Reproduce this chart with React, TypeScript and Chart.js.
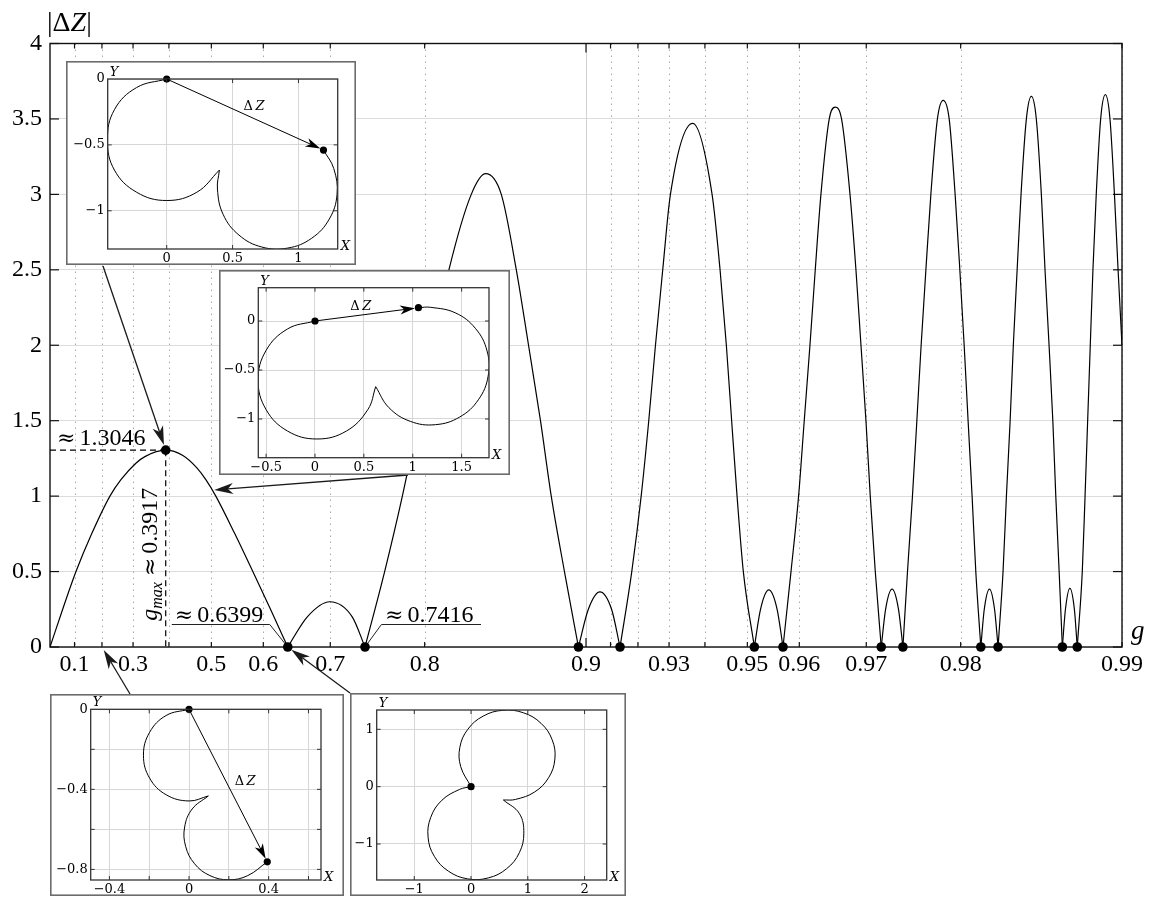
import React, { useEffect, useRef } from "react";
import { Chart, registerables } from "chart.js";

Chart.register(...registerables);

const FONT = "'Liberation Serif', 'DejaVu Serif', serif";
const SMALL_FONT = "'DejaVu Serif', 'Liberation Serif', serif";
const SYM_FONT = "'DejaVu Serif', serif";

// ---------------- main curve |ΔZ|(g) ----------------
const G_VALUES = [
  0, 0.053, 0.1056, 0.1639, 0.227, 0.2627, 0.3086, 0.3348, 0.3917, 0.4349, 0.4679, 0.488, 0.5095, 0.548, 0.5816, 0.6122, 0.6399,
  0.6689, 0.6993, 0.727, 0.7416,
  0.7625, 0.7799, 0.7942, 0.807, 0.8198, 0.8363, 0.8461, 0.8561, 0.8651, 0.872, 0.8784, 0.8839, 0.8903, 0.8967,
  0.901, 0.9058, 0.9104, 0.9136,
  0.91785, 0.9211, 0.92363, 0.9258, 0.92808, 0.93042, 0.93676, 0.94182, 0.94378, 0.94528, 0.94651, 0.94774, 0.94913, 0.95148,
  0.95275, 0.9544, 0.956, 0.9571,
  0.95855, 0.95988, 0.96084, 0.96179, 0.96265, 0.96355, 0.96483, 0.96572, 0.96664, 0.96783, 0.96864, 0.96931, 0.96996, 0.97051, 0.97114, 0.97187,
  0.97239, 0.97315, 0.97388, 0.97437,
  0.97487, 0.9754, 0.97586, 0.9763, 0.97678, 0.97727, 0.9779, 0.97844, 0.97899, 0.97952, 0.97993, 0.9803, 0.98063, 0.98096, 0.98126, 0.98166,
  0.98193, 0.98233, 0.98271, 0.98297,
  0.98333, 0.98357, 0.98383, 0.98405, 0.98431, 0.98457, 0.98492, 0.98524, 0.98555, 0.98586, 0.98608, 0.98632, 0.98654, 0.98671, 0.9869, 0.98708,
  0.98725, 0.98749, 0.98773, 0.98788,
  0.98814, 0.98828, 0.98841, 0.98854, 0.98867, 0.98883, 0.98904, 0.98926, 0.98947, 0.98967, 0.98983, 0.99,
];
const DZ_VALUES = [
  0, 0.25, 0.5, 0.75, 1.0, 1.109, 1.218, 1.262, 1.3046, 1.269, 1.187, 1.109, 1.0, 0.75, 0.5, 0.25, 0,
  0.2, 0.3, 0.2, 0,
  0.5, 1.0, 1.5, 2.0, 2.5, 3.0, 3.137, 3.0, 2.5, 2.0, 1.5, 1.0, 0.5, 0,
  0.25, 0.365, 0.25, 0,
  0.5, 1.0, 1.5, 2.0, 2.5, 3.0, 3.471, 3.0, 2.5, 2.0, 1.5, 1.0, 0.5, 0,
  0.25, 0.378, 0.25, 0,
  0.5, 1.0, 1.5, 2.0, 2.5, 3.0, 3.5, 3.578, 3.5, 3.0, 2.5, 2.0, 1.5, 1.0, 0.5, 0,
  0.25, 0.384, 0.25, 0,
  0.5, 1.0, 1.5, 2.0, 2.5, 3.0, 3.5, 3.623, 3.5, 3.0, 2.5, 2.0, 1.5, 1.0, 0.5, 0,
  0.25, 0.384, 0.25, 0,
  0.5, 1.0, 1.5, 2.0, 2.5, 3.0, 3.5, 3.649, 3.5, 3.0, 2.5, 2.0, 1.5, 1.0, 0.5, 0,
  0.25, 0.389, 0.25, 0,
  0.5, 1.0, 1.5, 2.0, 2.5, 3.0, 3.5, 3.661, 3.5, 3.0, 2.5, 2.0,
];
const ZERO_G = [0.6399, 0.7416, 0.8967, 0.9136, 0.95148, 0.9571, 0.97187, 0.97437, 0.98166, 0.98297, 0.98708, 0.98788];
const PEAK_G = 0.3917;
const PEAK_DZ = 1.3046;

const X_TICK_G = [0.1, 0.2, 0.3, 0.4, 0.5, 0.6, 0.7, 0.8, 0.9, 0.91, 0.92, 0.93, 0.94, 0.95, 0.96, 0.97, 0.98, 0.99];
const X_TICK_LABELS = ["0.1", "", "0.3", "", "0.5", "0.6", "0.7", "0.8", "0.9", "", "", "0.93", "", "0.95", "0.96", "0.97", "0.98", "0.99"];
const X_MAJOR_G = [0.9];
const Y_TICKS = [0, 0.5, 1, 1.5, 2, 2.5, 3, 3.5, 4];
const Y_TICK_LABELS = ["0", "0.5", "1", "1.5", "2", "2.5", "3", "3.5", "4"];

// arrows from insets to the main curve: target (g, |ΔZ|)
const ARROW_TARGET_G = [0.3917, 0.504, 0.2, 0.6399];
const ARROW_TARGET_DZ = [1.3046, 1.04, 0, 0];

// ---------------- inset trajectories ----------------
const TL_A_X = [0, -0.229, -0.397, -0.45, -0.397, -0.229, 0, 0.229, 0.4];
const TL_A_Y = [0, -0.065, -0.233, -0.462, -0.691, -0.859, -0.922, -0.859, -0.691];
const TL_B_X = [0.4, 0.385, 0.428, 0.548, 0.722, 0.919, 1.101, 1.234, 1.293, 1.268, 1.19];
const TL_B_Y = [-0.691, -0.835, -1.027, -1.184, -1.275, -1.283, -1.208, -1.063, -0.875, -0.679, -0.539];
const TL_DOT_X = [0, 1.19];
const TL_DOT_Y = [0, -0.539];

const MID_A_X = [0, -0.281, -0.501, -0.582, -0.501, -0.281, 0.02, 0.321, 0.541, 0.621];
const MID_A_Y = [0, -0.081, -0.301, -0.602, -0.903, -1.123, -1.204, -1.123, -0.903, -0.67];
const MID_B_X = [0.621, 0.756, 0.975, 1.232, 1.48, 1.671, 1.771, 1.76, 1.64, 1.434, 1.18, 1.058];
const MID_B_Y = [-0.67, -0.884, -1.024, -1.058, -0.98, -0.804, -0.564, -0.305, -0.074, 0.084, 0.14, 0.136];
const MID_DOT_X = [0, 1.058];
const MID_DOT_Y = [0, 0.136];

const BL_A_X = [0, -0.115, -0.198, -0.229, -0.198, -0.115, 0, 0.097];
const BL_A_Y = [0, -0.031, -0.115, -0.229, -0.344, -0.427, -0.458, -0.433];
const BL_B_X = [0.097, 0.016, -0.022, -0.017, 0.028, 0.105, 0.2, 0.295, 0.393];
const BL_B_Y = [-0.433, -0.498, -0.588, -0.685, -0.772, -0.831, -0.852, -0.831, -0.762];
const BL_DOT_X = [0, 0.393];
const BL_DOT_Y = [0, -0.762];

const BR_A_X = [0, -0.181, -0.197, -0.057, 0.213, 0.561, 0.924, 1.233, 1.429, 1.477, 1.367, 1.12, 0.782, 0.57];
const BR_A_Y = [0, 0.347, 0.686, 1.0, 1.23, 1.332, 1.288, 1.105, 0.818, 0.482, 0.157, -0.093, -0.223, -0.233];
const BR_B_X = [0.57, 0.851, 0.93, 0.851, 0.628, 0.304, -0.062, -0.4, -0.647, -0.757, -0.709, -0.513, -0.204, 0];
const BR_B_Y = [-0.233, -0.468, -0.81, -1.152, -1.43, -1.592, -1.608, -1.473, -1.215, -0.881, -0.533, -0.237, -0.049, 0];
const BR_DOT_X = [0];
const BR_DOT_Y = [0];

// inset axis ranges and ticks
const TL_RANGE = [-0.448, 1.298, -1.29, 0];
const MID_RANGE = [-0.58, 1.78, -1.395, 0.34];
const BL_RANGE = [-0.494, 0.663, -0.853, 0];
const BR_RANGE = [-1.662, 2.39, -1.628, 1.337];

const TL_XT = [0, 0.5, 1];
const TL_XL = ["0", "0.5", "1"];
const TL_YT = [0, -0.5, -1];
const TL_YL = ["0", "\u22120.5", "\u22121"];
const MID_XT = [-0.5, 0, 0.5, 1, 1.5];
const MID_XL = ["\u22120.5", "0", "0.5", "1", "1.5"];
const MID_YT = [0, -0.5, -1];
const MID_YL = ["0", "\u22120.5", "\u22121"];
const BL_XT = [-0.4, -0.2, 0, 0.2, 0.4, 0.6];
const BL_XL = ["\u22120.4", "", "0", "", "0.4", ""];
const BL_YT = [0, -0.2, -0.4, -0.6, -0.8];
const BL_YL = ["0", "", "\u22120.4", "", "\u22120.8"];
const BR_XT = [-1, 0, 1, 2];
const BR_XL = ["\u22121", "0", "1", "2"];
const BR_YT = [1, 0, -1];
const BR_YL = ["1", "0", "\u22121"];

// ---------------- layout (pixels) ----------------
const W = 1154;
const H = 897;
const PLOT = { left: 50, right: 1122, top: 43.5, bottom: 647 };
const ARROW_FROM = [[103, 266], [408, 475], [130, 694], [350, 693]];
const ARROW_SHORTEN = [5.5, 1, 3.5, 4.5];

type InsetSpec = {
  box: number[];
  inner: number[];
  range: number[];
  xt: number[]; xl: string[]; yt: number[]; yl: string[];
  curves: number[][][];
  dotX: number[]; dotY: number[];
  labelOffset: number[] | null;
};

const INSETS: InsetSpec[] = [
  {
    box: [66, 61, 356, 265], inner: [107.7, 79, 337.7, 249], range: TL_RANGE,
    xt: TL_XT, xl: TL_XL, yt: TL_YT, yl: TL_YL,
    curves: [[TL_A_X, TL_A_Y], [TL_B_X, TL_B_Y]], dotX: TL_DOT_X, dotY: TL_DOT_Y, labelOffset: [9, -8],
  },
  {
    box: [219, 270, 510, 475], inner: [258.3, 287.7, 489, 457.7], range: MID_RANGE,
    xt: MID_XT, xl: MID_XL, yt: MID_YT, yl: MID_YL,
    curves: [[MID_A_X, MID_A_Y], [MID_B_X, MID_B_Y]], dotX: MID_DOT_X, dotY: MID_DOT_Y, labelOffset: [-6, -8],
  },
  {
    box: [50, 694, 344, 896], inner: [90.7, 709.3, 321, 880], range: BL_RANGE,
    xt: BL_XT, xl: BL_XL, yt: BL_YT, yl: BL_YL,
    curves: [[BL_A_X, BL_A_Y], [BL_B_X, BL_B_Y]], dotX: BL_DOT_X, dotY: BL_DOT_Y, labelOffset: [17, -4],
  },
  {
    box: [350, 693, 626, 896], inner: [376.7, 710, 606.7, 880], range: BR_RANGE,
    xt: BR_XT, xl: BR_XL, yt: BR_YT, yl: BR_YL,
    curves: [[BR_A_X, BR_A_Y], [BR_B_X, BR_B_Y]], dotX: BR_DOT_X, dotY: BR_DOT_Y, labelOffset: null,
  },
];

// ---------------- helpers ----------------
const toU = (g: number) => -Math.log(1 - g);

// text, italic, size, dy, optional family
type Part = [string, boolean, number, number, string?];

function measureParts(ctx: CanvasRenderingContext2D, parts: Part[], family: string) {
  let w = 0;
  for (const [t, it, s, , fam] of parts) {
    ctx.font = `${it ? "italic " : ""}${s}px ${fam || family}`;
    w += ctx.measureText(t).width;
  }
  return w;
}

function drawParts(ctx: CanvasRenderingContext2D, parts: Part[], x: number, y: number, family: string) {
  let cx = x;
  for (const [t, it, s, dy, fam] of parts) {
    ctx.font = `${it ? "italic " : ""}${s}px ${fam || family}`;
    ctx.fillText(t, cx, y + dy);
    cx += ctx.measureText(t).width;
  }
}

function drawArrow(
  ctx: CanvasRenderingContext2D, x0: number, y0: number, x1: number, y1: number,
  shorten: number, len: number, half: number
) {
  const dx = x1 - x0, dy = y1 - y0;
  const d = Math.hypot(dx, dy);
  const ux = dx / d, uy = dy / d, nx = -uy, ny = ux;
  const tx = x1 - ux * shorten, ty = y1 - uy * shorten;
  const bx = tx - ux * len, by = ty - uy * len;
  const mx = tx - ux * len * 0.72, my = ty - uy * len * 0.72;
  ctx.beginPath();
  ctx.moveTo(x0, y0);
  ctx.lineTo(mx, my);
  ctx.stroke();
  ctx.beginPath();
  ctx.moveTo(tx, ty);
  ctx.lineTo(bx + nx * half, by + ny * half);
  ctx.lineTo(mx, my);
  ctx.lineTo(bx - nx * half, by - ny * half);
  ctx.closePath();
  ctx.fill();
}

function line(ctx: CanvasRenderingContext2D, a: number, b: number, c: number, d: number) {
  ctx.beginPath();
  ctx.moveTo(a, b);
  ctx.lineTo(c, d);
  ctx.stroke();
}

function approxParts(value: string): Part[] {
  return [["\u2248", false, 22, 0, SYM_FONT], ["\u2006" + value, false, 24, 0]];
}

// ---------------- main chart plugin ----------------
const mainPlugin = {
  id: "mainDecor",
  beforeDatasetsDraw(chart: any) {
    const { ctx, chartArea: a, scales } = chart;
    const xs = scales.x, ys = scales.y;
    ctx.save();
    X_TICK_G.forEach((g) => {
      const px = Math.round(xs.getPixelForValue(toU(g))) + 0.5;
      const major = X_MAJOR_G.includes(g);
      ctx.setLineDash(major ? [] : [1.5, 4.5]);
      ctx.strokeStyle = major ? "#d2d2d2" : "#a8a8a8";
      ctx.lineWidth = 1;
      line(ctx, px, a.top, px, a.bottom);
    });
    ctx.setLineDash([]);
    ctx.strokeStyle = "#111";
    ctx.lineWidth = 1.4;
    ctx.strokeRect(a.left, a.top, a.right - a.left, a.bottom - a.top);
    ctx.lineWidth = 1.2;
    X_TICK_G.forEach((g) => {
      const px = xs.getPixelForValue(toU(g));
      const len = X_MAJOR_G.includes(g) ? 9 : 5;
      line(ctx, px, a.top, px, a.top + len);
      line(ctx, px, a.bottom, px, a.bottom - len);
    });
    Y_TICKS.forEach((v) => {
      const py = ys.getPixelForValue(v);
      line(ctx, a.left, py, a.left + 9, py);
      line(ctx, a.right, py, a.right - 9, py);
    });
    const px = xs.getPixelForValue(toU(PEAK_G));
    const py = ys.getPixelForValue(PEAK_DZ);
    ctx.setLineDash([6, 4]);
    ctx.lineWidth = 1.2;
    ctx.strokeStyle = "#000";
    line(ctx, a.left, py, px, py);
    line(ctx, px, py, px, a.bottom);
    ctx.setLineDash([]);
    const zy = ys.getPixelForValue(0);
    const z1 = xs.getPixelForValue(toU(ZERO_G[0]));
    const z2 = xs.getPixelForValue(toU(ZERO_G[1]));
    ctx.lineWidth = 1;
    ctx.strokeStyle = "#222";
    ctx.beginPath();
    ctx.moveTo(z1 - 116, zy - 22.5);
    ctx.lineTo(z1 - 18, zy - 22.5);
    ctx.lineTo(z1, zy);
    ctx.stroke();
    ctx.beginPath();
    ctx.moveTo(z2 + 116, zy - 22.5);
    ctx.lineTo(z2 + 16.4, zy - 22.5);
    ctx.lineTo(z2, zy);
    ctx.stroke();
    ctx.restore();
  },
  afterDatasetsDraw(chart: any) {
    const { ctx, scales } = chart;
    const xs = scales.x, ys = scales.y;
    ctx.save();
    ctx.fillStyle = "#000";
    ctx.strokeStyle = "#000";
    ctx.textBaseline = "alphabetic";
    const px = xs.getPixelForValue(toU(PEAK_G));
    const py = ys.getPixelForValue(PEAK_DZ);
    const zy = ys.getPixelForValue(0);
    const z1 = xs.getPixelForValue(toU(ZERO_G[0]));
    const z2 = xs.getPixelForValue(toU(ZERO_G[1]));
    drawParts(ctx, approxParts(PEAK_DZ.toFixed(4)), 57, py - 5, FONT);
    drawParts(ctx, approxParts(ZERO_G[0].toFixed(4)), z1 - 113, zy - 25, FONT);
    drawParts(ctx, approxParts(ZERO_G[1].toFixed(4)), z2 + 20, zy - 25, FONT);
    const rot: Part[] = [
      ["g", true, 24, 0], ["max", true, 16, 5], ["\u2005", false, 24, 0],
      ["\u2248", false, 22, 0, SYM_FONT], ["\u2006" + PEAK_G.toFixed(4), false, 24, 0],
    ];
    ctx.save();
    ctx.translate(px - 9, py + 104);
    ctx.rotate(-Math.PI / 2);
    const rw = measureParts(ctx, rot, FONT);
    drawParts(ctx, rot, -rw / 2, 0, FONT);
    ctx.restore();
    ctx.lineWidth = 1.3;
    ctx.strokeStyle = "#1a1a1a";
    ctx.fillStyle = "#1a1a1a";
    ARROW_FROM.forEach(([sx, sy], i) => {
      const tx = xs.getPixelForValue(toU(ARROW_TARGET_G[i]));
      const ty = ys.getPixelForValue(ARROW_TARGET_DZ[i]);
      drawArrow(ctx, sx, sy, tx, ty, ARROW_SHORTEN[i], 19, 5.5);
    });
    ctx.fillStyle = "#000";
    drawParts(ctx, [["|\u0394", false, 28, 0], ["Z", true, 28, 0], ["|", false, 28, 0]], 47, 31, FONT);
    drawParts(ctx, [["g", true, 27, 0]], 1131, 639, FONT);
    ctx.restore();
  },
};

function MainChart() {
  const ref = useRef<HTMLCanvasElement>(null);
  useEffect(() => {
    const segments: { x: number; y: number }[][] = [];
    let cur: { x: number; y: number }[] = [];
    G_VALUES.forEach((g, i) => {
      const p = { x: toU(g), y: DZ_VALUES[i] };
      cur.push(p);
      if (DZ_VALUES[i] === 0 && cur.length > 1) {
        segments.push(cur);
        cur = [p];
      }
    });
    if (cur.length > 1) segments.push(cur);

    const datasets: any[] = segments.map((seg) => ({
      data: seg,
      showLine: true,
      borderColor: "#000",
      borderWidth: 1.2,
      pointRadius: 0,
      cubicInterpolationMode: "monotone",
      fill: false,
      order: 2,
    }));
    datasets.push({
      data: [...ZERO_G.map((g) => ({ x: toU(g), y: 0 })), { x: toU(PEAK_G), y: PEAK_DZ }],
      showLine: false,
      pointRadius: 4.8,
      pointBackgroundColor: "#000",
      pointBorderColor: "#000",
      pointBorderWidth: 0,
      clip: false,
      order: -1,
    });

    const chart = new Chart(ref.current as HTMLCanvasElement, {
      type: "scatter",
      data: { datasets },
      options: {
        responsive: false,
        maintainAspectRatio: false,
        animation: false,
        events: [],
        elements: { line: { capBezierPoints: false } },
        layout: {
          autoPadding: false,
          padding: { top: PLOT.top, right: W - PLOT.right, left: 0, bottom: 0 },
        },
        plugins: { legend: { display: false }, tooltip: { enabled: false } },
        scales: {
          x: {
            type: "linear",
            min: 0,
            max: toU(0.99),
            afterBuildTicks: (s: any) => {
              s.ticks = X_TICK_G.map((g) => ({ value: toU(g) }));
            },
            afterFit: (s: any) => {
              s.height = H - PLOT.bottom;
            },
            ticks: {
              autoSkip: false,
              maxRotation: 0,
              minRotation: 0,
              padding: 3,
              color: "#000",
              font: { family: FONT, size: 24 },
              callback: (_v: any, i: number) => X_TICK_LABELS[i] ?? "",
            },
            grid: { display: false, drawTicks: false },
            border: { display: false },
          },
          y: {
            type: "linear",
            min: 0,
            max: 4,
            afterBuildTicks: (s: any) => {
              s.ticks = Y_TICKS.map((v) => ({ value: v }));
            },
            afterFit: (s: any) => {
              s.width = PLOT.left;
            },
            ticks: {
              padding: 8,
              color: "#000",
              font: { family: FONT, size: 24 },
              callback: (_v: any, i: number) => Y_TICK_LABELS[i] ?? "",
            },
            grid: { color: "#dcdcdc", lineWidth: 1, drawTicks: false },
            border: { display: false },
          },
        },
      } as any,
      plugins: [mainPlugin],
    });
    return () => chart.destroy();
  }, []);
  return (
    <canvas
      ref={ref}
      width={W}
      height={H}
      style={{ position: "absolute", left: 0, top: 0, width: W, height: H }}
    />
  );
}

// ---------------- inset charts ----------------
function makeInsetPlugin(spec: InsetSpec) {
  return {
    id: "insetDecor",
    beforeDraw(chart: any) {
      const { ctx, width, height } = chart;
      ctx.save();
      ctx.fillStyle = "#fff";
      ctx.fillRect(0, 0, width, height);
      ctx.strokeStyle = "#6c6c6c";
      ctx.lineWidth = 1.6;
      ctx.strokeRect(0.8, 0.8, width - 1.6, height - 1.6);
      ctx.restore();
    },
    afterDatasetsDraw(chart: any) {
      const { ctx, chartArea: a, scales } = chart;
      const xs = scales.x, ys = scales.y;
      ctx.save();
      ctx.strokeStyle = "#333";
      ctx.lineWidth = 1.3;
      ctx.strokeRect(a.left, a.top, a.right - a.left, a.bottom - a.top);
      ctx.lineWidth = 1;
      spec.xt.forEach((v) => {
        const px = xs.getPixelForValue(v);
        if (px < a.left + 1 || px > a.right - 1) return;
        line(ctx, px, a.top, px, a.top + 4);
        line(ctx, px, a.bottom, px, a.bottom - 4);
      });
      spec.yt.forEach((v) => {
        const py = ys.getPixelForValue(v);
        if (py < a.top + 1 || py > a.bottom - 1) return;
        line(ctx, a.left, py, a.left + 4, py);
        line(ctx, a.right, py, a.right - 4, py);
      });
      ctx.fillStyle = "#000";
      ctx.strokeStyle = "#000";
      if (spec.labelOffset && spec.dotX.length > 1) {
        const x0 = xs.getPixelForValue(spec.dotX[0]);
        const y0 = ys.getPixelForValue(spec.dotY[0]);
        const x1 = xs.getPixelForValue(spec.dotX[1]);
        const y1 = ys.getPixelForValue(spec.dotY[1]);
        ctx.lineWidth = 1;
        drawArrow(ctx, x0, y0, x1, y1, 3.5, 15, 4.5);
        const parts: Part[] = [["\u0394", false, 13, 0], ["\u2009Z", true, 13, 0]];
        ctx.textBaseline = "middle";
        const w = measureParts(ctx, parts, SMALL_FONT);
        drawParts(
          ctx, parts,
          (x0 + x1) / 2 + spec.labelOffset[0] - w / 2,
          (y0 + y1) / 2 + spec.labelOffset[1],
          SMALL_FONT
        );
      }
      ctx.textBaseline = "alphabetic";
      drawParts(ctx, [["Y", true, 13, 0]], a.left + 2, a.top - 3, SMALL_FONT);
      drawParts(ctx, [["X", true, 13, 0]], a.right + 3, a.bottom + 1, SMALL_FONT);
      ctx.restore();
    },
  };
}

function Inset({ spec }: { spec: InsetSpec }) {
  const ref = useRef<HTMLCanvasElement>(null);
  const [L, T, R, B] = spec.box;
  const [iL, iT, iR, iB] = spec.inner;
  useEffect(() => {
    const datasets: any[] = spec.curves.map(([xs, ys]) => ({
      data: xs.map((v, i) => ({ x: v, y: ys[i] })),
      showLine: true,
      tension: 0.4,
      borderColor: "#000",
      borderWidth: 1,
      pointRadius: 0,
      fill: false,
      order: 2,
    }));
    datasets.push({
      data: spec.dotX.map((v, i) => ({ x: v, y: spec.dotY[i] })),
      showLine: false,
      pointRadius: 3.6,
      pointBackgroundColor: "#000",
      pointBorderColor: "#000",
      pointBorderWidth: 0,
      clip: false,
      order: -1,
    });
    const [xMin, xMax, yMin, yMax] = spec.range;
    const chart = new Chart(ref.current as HTMLCanvasElement, {
      type: "scatter",
      data: { datasets },
      options: {
        responsive: false,
        maintainAspectRatio: false,
        animation: false,
        events: [],
        elements: { line: { capBezierPoints: false } },
        layout: {
          autoPadding: false,
          padding: { top: iT - T, right: R - iR, left: 0, bottom: 0 },
        },
        plugins: { legend: { display: false }, tooltip: { enabled: false } },
        scales: {
          x: {
            type: "linear",
            min: xMin,
            max: xMax,
            afterBuildTicks: (s: any) => {
              s.ticks = spec.xt.map((v) => ({ value: v }));
            },
            afterFit: (s: any) => {
              s.height = B - iB;
            },
            ticks: {
              autoSkip: false,
              maxRotation: 0,
              padding: 2,
              color: "#000",
              font: { family: SMALL_FONT, size: 13 },
              callback: (_v: any, i: number) => spec.xl[i] ?? "",
            },
            grid: { color: "#d6d6d6", lineWidth: 1, drawTicks: false },
            border: { display: false },
          },
          y: {
            type: "linear",
            min: yMin,
            max: yMax,
            afterBuildTicks: (s: any) => {
              s.ticks = spec.yt.map((v) => ({ value: v }));
            },
            afterFit: (s: any) => {
              s.width = iL - L;
            },
            ticks: {
              autoSkip: false,
              padding: 3,
              color: "#000",
              font: { family: SMALL_FONT, size: 13 },
              callback: (_v: any, i: number) => spec.yl[i] ?? "",
            },
            grid: { color: "#d6d6d6", lineWidth: 1, drawTicks: false },
            border: { display: false },
          },
        },
      } as any,
      plugins: [makeInsetPlugin(spec)],
    });
    return () => chart.destroy();
  }, []);
  return (
    <canvas
      ref={ref}
      width={R - L}
      height={B - T}
      style={{ position: "absolute", left: L, top: T, width: R - L, height: B - T }}
    />
  );
}

export default function App() {
  return (
    <div
      style={{
        position: "absolute",
        left: 0,
        top: 0,
        width: W,
        height: H,
        background: "#fff",
        overflow: "hidden",
      }}
    >
      <MainChart />
      {INSETS.map((s, i) => (
        <Inset key={i} spec={s} />
      ))}
    </div>
  );
}
